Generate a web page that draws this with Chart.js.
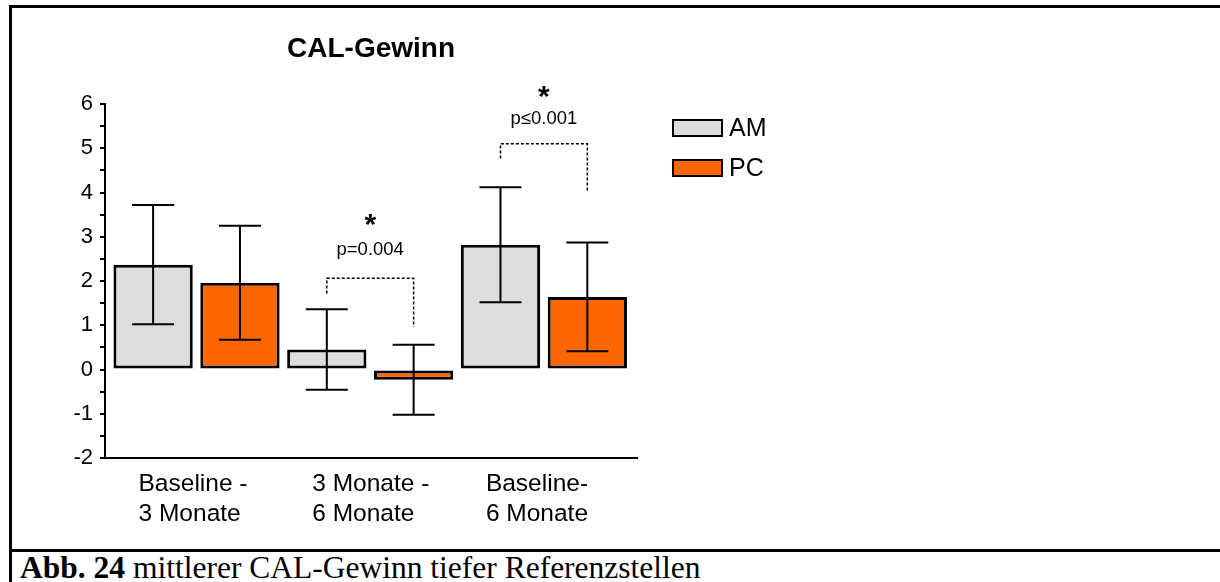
<!DOCTYPE html>
<html>
<head>
<meta charset="utf-8">
<script src="https://cdn.jsdelivr.net/npm/chart.js@4.4.1/dist/chart.umd.min.js"></script>
<style>
  body { margin: 0; width: 1220px; height: 582px; overflow: hidden; background: #fff; position: relative; }
  .frame { position: absolute; left: 9px; top: 5px; width: 1400px; height: 700px; border-left: 3px solid #000; border-top: 3px solid #000; }
  .sep { position: absolute; left: 9px; top: 549px; width: 1400px; border-top: 3px solid #000; }
  .caption { position: absolute; left: 20px; top: 552px; font-family: "Liberation Serif", "Times New Roman", serif; font-size: 31.5px; line-height: 32px; white-space: nowrap; }
  #chart { position: absolute; left: 0; top: 0; }
</style>
</head>
<body>
<div class="frame"></div>
<div class="sep"></div>
<div class="caption"><b>Abb. 24</b> mittlerer CAL-Gewinn tiefer Referenzstellen</div>
<canvas id="chart" width="1220" height="546"></canvas>
<script>
// Daten
const categories = [['Baseline -', '3 Monate'], ['3 Monate -', '6 Monate'], ['Baseline-', '6 Monate']];
const seriesNames = ['AM', 'PC'];
const amMeans = [2.37, 0.45, 2.82];
const amSd = [1.35, 0.91, 1.30];
const pcMeans = [1.96, -0.23, 1.64];
const pcSd = [1.29, 0.79, 1.23];
const yMin = -2;
const yMax = 6;
const yStep = 0.5;

// Signifikanz: Kategorie-Index, Text, Klammerhoehe und Beinenden (Werte der y-Achse)
const sigCats = [1, 2];
const sigLabels = ['p=0.004', 'p\u22640.001'];
const sigTop = [2.06, 5.10];
const sigAmEnd = [1.72, 4.77];
const sigPcEnd = [0.96, 4.01];
const sigTextAt = [2.70, 5.66];
const sigStarAt = [3.45, 6.34];

const FONT = "'Liberation Sans', Arial, sans-serif";
const colors = ['#dddddd', '#ff6600'];

const errorBars = {
  id: 'errorBars',
  afterDatasetsDraw(chart) {
    const ctx = chart.ctx;
    const y = chart.scales.y;
    chart.data.datasets.forEach((ds, i) => {
      chart.getDatasetMeta(i).data.forEach((bar, j) => {
        const m = ds.data[j].y;
        const s = ds.sd[j];
        const top = y.getPixelForValue(m + s);
        const bot = y.getPixelForValue(m - s);
        ctx.save();
        ctx.strokeStyle = '#000';
        ctx.lineWidth = 2;
        ctx.beginPath();
        ctx.moveTo(bar.x, top); ctx.lineTo(bar.x, bot);
        ctx.moveTo(bar.x - 21, top); ctx.lineTo(bar.x + 21, top);
        ctx.moveTo(bar.x - 21, bot); ctx.lineTo(bar.x + 21, bot);
        ctx.stroke();
        ctx.restore();
      });
    });

    // Signifikanzklammern
    sigCats.forEach((c, k) => {
      const xa = chart.getDatasetMeta(0).data[c].x;
      const xp = chart.getDatasetMeta(1).data[c].x;
      const yt = y.getPixelForValue(sigTop[k]);
      ctx.save();
      ctx.strokeStyle = '#000';
      ctx.lineWidth = 1.5;
      ctx.setLineDash([3, 2]);
      ctx.beginPath();
      ctx.moveTo(xa, y.getPixelForValue(sigAmEnd[k]));
      ctx.lineTo(xa, yt);
      ctx.lineTo(xp, yt);
      ctx.lineTo(xp, y.getPixelForValue(sigPcEnd[k]));
      ctx.stroke();
      ctx.setLineDash([]);
      ctx.fillStyle = '#000';
      ctx.textAlign = 'center';
      ctx.textBaseline = 'middle';
      ctx.font = '18.5px ' + FONT;
      const xm = (xa + xp) / 2;
      ctx.fillText(sigLabels[k], xm, y.getPixelForValue(sigTextAt[k]));
      ctx.font = 'bold 30px ' + FONT;
      ctx.textBaseline = 'alphabetic';
      ctx.fillText('*', xm, y.getPixelForValue(sigStarAt[k]) + 17);
      ctx.restore();
    });
  },
  afterDraw(chart) {
    // Legende
    const ctx = chart.ctx;
    ctx.save();
    chart.data.datasets.forEach((ds, i) => {
      const by = 119 + i * 40;
      ctx.fillStyle = ds.backgroundColor;
      ctx.fillRect(672, by, 51, 18);
      ctx.strokeStyle = '#000';
      ctx.lineWidth = 2;
      ctx.strokeRect(673, by + 1, 49, 16);
      ctx.fillStyle = '#000';
      ctx.font = '25px ' + FONT;
      ctx.textAlign = 'left';
      ctx.textBaseline = 'middle';
      ctx.fillText(ds.label, 729, by + 10);
    });
    ctx.restore();
  }
};

const datasets = [amMeans, pcMeans].map((vals, i) => ({
  label: seriesNames[i],
  data: vals.map((v, j) => ({ x: j + 1, y: v })),
  sd: i === 0 ? amSd : pcSd,
  backgroundColor: colors[i],
  borderColor: '#000',
  borderWidth: 3,
  borderSkipped: false,
  barPercentage: 0.913,
  categoryPercentage: 1.0
}));

new Chart(document.getElementById('chart'), {
  type: 'bar',
  data: { datasets },
  plugins: [errorBars],
  options: {
    responsive: false,
    animation: false,
    devicePixelRatio: 1,
    layout: { padding: { top: 10, left: 45, right: 583, bottom: 8 } },
    plugins: {
      legend: { display: false },
      tooltip: { enabled: false },
      title: {
        display: true,
        text: 'CAL-Gewinn',
        fullSize: false,
        color: '#000',
        font: { family: FONT, size: 28, weight: 'bold' },
        padding: { top: 22, bottom: 38.4 }
      }
    },
    scales: {
      x: {
        type: 'linear',
        min: 0.473,
        max: 3.536,
        offset: false,
        bounds: 'data',
        border: { color: '#000', width: 2 },
        grid: { display: false, drawTicks: false },
        afterBuildTicks: s => { s.ticks = categories.map((_, i) => ({ value: i + 1 })); },
        afterFit: s => { s.height = 80; },
        ticks: {
          autoSkip: false,
          maxRotation: 0,
          minRotation: 0,
          align: 'start',
          labelOffset: -58,
          padding: 12,
          color: '#000',
          font: { family: FONT, size: 24.5 },
          callback: v => categories[v - 1]
        }
      },
      y: {
        min: yMin,
        max: yMax,
        border: { color: '#000', width: 2 },
        grid: { drawOnChartArea: false, color: '#000', lineWidth: 2, tickLength: 5 },
        afterFit: s => { s.width = 60; },
        ticks: {
          stepSize: yStep,
          autoSkip: false,
          padding: 7,
          color: '#000',
          font: { family: FONT, size: 22 },
          callback: v => Number.isInteger(v) ? v : ''
        }
      }
    }
  }
});
</script>
</body>
</html>
